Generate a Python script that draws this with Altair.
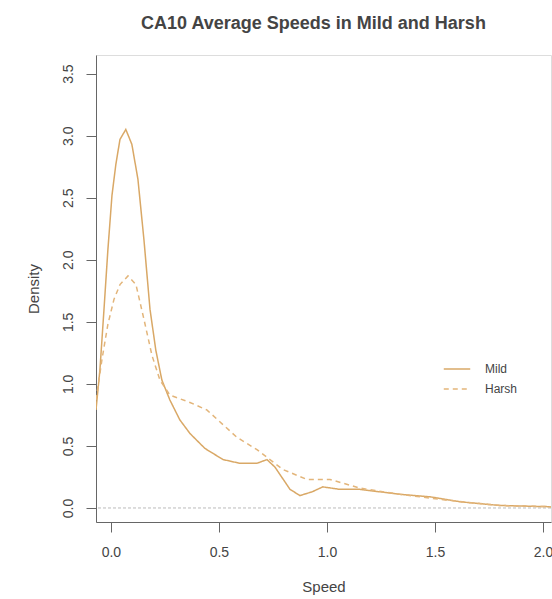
import altair as alt
import pandas as pd

# Values
mild_speed = [-0.069, -0.051, -0.032, -0.014, 0.005, 0.023, 0.042, 0.069, 0.097, 0.125,
              0.153, 0.181, 0.208, 0.236, 0.273, 0.319, 0.366, 0.435, 0.519, 0.597,
              0.676, 0.722, 0.759, 0.829, 0.875, 0.931, 0.981, 1.060, 1.153, 1.245,
              1.338, 1.477, 1.616, 1.801, 2.037]
mild_density = [0.79, 1.11, 1.60, 2.08, 2.52, 2.77, 2.97, 3.05, 2.93, 2.65,
                2.16, 1.60, 1.27, 1.03, 0.87, 0.71, 0.60, 0.48, 0.39, 0.36,
                0.36, 0.39, 0.33, 0.15, 0.10, 0.13, 0.17, 0.15, 0.15, 0.13,
                0.11, 0.09, 0.05, 0.02, 0.01]

harsh_speed = [-0.069, -0.042, -0.014, 0.014, 0.042, 0.079, 0.116, 0.153, 0.190, 0.227,
               0.273, 0.366, 0.444, 0.583, 0.676, 0.796, 0.907, 1.014, 1.153, 1.338,
               1.569, 1.801, 2.037]
harsh_density = [0.87, 1.19, 1.48, 1.68, 1.80, 1.87, 1.80, 1.52, 1.23, 1.03,
                 0.91, 0.85, 0.79, 0.57, 0.47, 0.31, 0.23, 0.23, 0.16, 0.11,
                 0.06, 0.02, 0.01]

series_names = ["Mild", "Harsh"]
series_colors = ["#d9a866", "#e3b57a"]
x_ticks = [0.0, 0.5, 1.0, 1.5, 2.0]
y_ticks = [0.0, 0.5, 1.0, 1.5, 2.0, 2.5, 3.0, 3.5]

rows = []
for i, (s, d) in enumerate(zip(mild_speed, mild_density)):
    rows.append({"Speed": s, "Density": d, "Group": "Mild", "order": i})
for i, (s, d) in enumerate(zip(harsh_speed, harsh_density)):
    rows.append({"Speed": s, "Density": d, "Group": "Harsh", "order": i})
df = pd.DataFrame(rows)

font = "Liberation Sans"
axis_color = "#666666"
text_color = "#444444"

x_scale = alt.Scale(domain=[-0.069, 2.037], nice=False, zero=False)
y_scale = alt.Scale(domain=[-0.113, 3.65], nice=False, zero=False)


def make_legend():
    return alt.Legend(title=None, orient="none", legendX=347, legendY=300,
                      symbolType="stroke", symbolSize=700, labelOffset=14,
                      labelFont=font, labelFontSize=12, labelColor=text_color,
                      rowPadding=-16)


lines = alt.Chart(df).mark_line(strokeWidth=1.5, clip=True).encode(
    x=alt.X("Speed:Q", scale=x_scale,
            axis=alt.Axis(values=x_ticks, format=".1f", title="Speed",
                          grid=False, tickSize=10, labelPadding=13,
                          titlePadding=20, domainColor=axis_color,
                          tickColor=axis_color, labelColor=text_color,
                          titleColor=text_color, labelFont=font, titleFont=font,
                          labelFontSize=14, titleFontSize=15,
                          titleFontWeight="normal")),
    y=alt.Y("Density:Q", scale=y_scale,
            axis=alt.Axis(values=y_ticks, format=".1f", title="Density",
                          grid=False, tickSize=10, labelAngle=-90,
                          labelAlign="center", labelBaseline="bottom",
                          labelPadding=11, titlePadding=20,
                          domainColor=axis_color, tickColor=axis_color,
                          labelColor=text_color, titleColor=text_color,
                          labelFont=font, titleFont=font,
                          labelFontSize=14, titleFontSize=15,
                          titleFontWeight="normal")),
    color=alt.Color("Group:N",
                    scale=alt.Scale(domain=series_names, range=series_colors),
                    legend=make_legend()),
    strokeDash=alt.StrokeDash("Group:N",
                              scale=alt.Scale(domain=series_names,
                                              range=[[1, 0], [5, 4]]),
                              legend=make_legend()),
    order="order:Q",
)

zero = alt.Chart(pd.DataFrame({"y": [0.0]})).mark_rule(
    color="#bbbbbb", strokeWidth=1, strokeDash=[3, 2]
).encode(y=alt.Y("y:Q", scale=y_scale))

chart = alt.layer(zero, lines).properties(
    width=455,
    height=467,
    title=alt.TitleParams("CA10 Average Speeds in Mild and Harsh", font=font,
                          fontSize=18, fontWeight="bold", color=text_color,
                          anchor="middle", offset=22, dx=-10),
    autosize=alt.AutoSizeParams(type="none"),
    padding={"left": 96, "top": 55, "right": 1, "bottom": 77},
).configure_view(stroke=axis_color, strokeWidth=1).configure(background="white")

chart.save("out.html", embed_options={"renderer": "svg", "actions": False})
